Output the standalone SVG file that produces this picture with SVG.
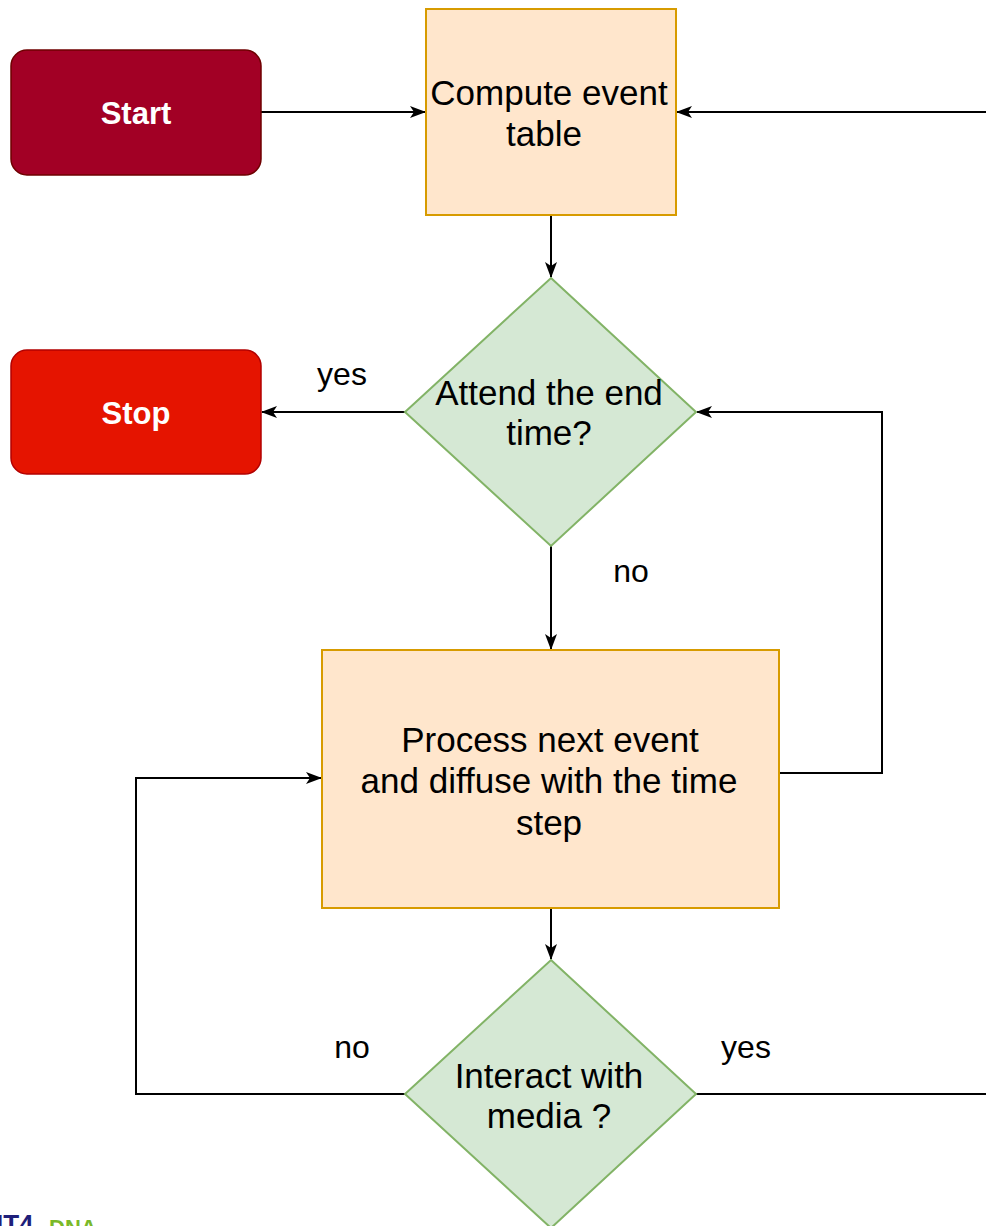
<svg xmlns="http://www.w3.org/2000/svg" width="986" height="1226" viewBox="0 0 986 1226">
<style>
text{font-family:"Liberation Sans",Arial,Helvetica,sans-serif;text-anchor:middle}
.t{font-size:35px;fill:#000}
.w{font-size:31px;fill:#fff;font-weight:bold}
.l{font-size:32px;fill:#000}
.proc{fill:#ffe6cc;stroke:#d79b00;stroke-width:2}
.dec{fill:#d5e8d4;stroke:#82b366;stroke-width:2}
.c{fill:none;stroke:#000;stroke-width:2}
</style>
<defs>
<marker id="a" viewBox="0 0 16 12" refX="15" refY="6" markerWidth="16" markerHeight="12" markerUnits="userSpaceOnUse" orient="auto">
<path d="M0,0 L16,6 L0,12 L4,6 Z" fill="#000"/>
</marker>
</defs>
<rect width="986" height="1226" fill="#fff"/>
<g id="connectors">
<path class="c" d="M261,112 H425" marker-end="url(#a)"/>
<path class="c" d="M990,112 H677" marker-end="url(#a)"/>
<path class="c" d="M551,215 V277" marker-end="url(#a)"/>
<path class="c" d="M405,412 H262" marker-end="url(#a)"/>
<path class="c" d="M551,546 V649" marker-end="url(#a)"/>
<path class="c" d="M779,773 H882 V412 H697" marker-end="url(#a)"/>
<path class="c" d="M551,908 V959" marker-end="url(#a)"/>
<path class="c" d="M405,1094 H136 V778 H321" marker-end="url(#a)"/>
<path class="c" d="M696,1094 H990"/>
<text class="l" x="342" y="385">yes</text>
<text class="l" x="631" y="582">no</text>
<text class="l" x="352" y="1058">no</text>
<text class="l" x="746" y="1058">yes</text>
</g>
<g id="start">
<rect x="11" y="50" width="250" height="125" rx="16" fill="#a20025" stroke="#6f0000" stroke-width="1.5"/>
<text class="w" x="136" y="124">Start</text>
</g>
<g id="compute">
<rect class="proc" x="426" y="9" width="250" height="206"/>
<text class="t" x="549" y="105">Compute event</text>
<text class="t" x="544" y="146">table</text>
</g>
<g id="stop">
<rect x="11" y="350" width="250" height="124" rx="16" fill="#e51400" stroke="#b20000" stroke-width="1.5"/>
<text class="w" x="136" y="424">Stop</text>
</g>
<g id="attend">
<polygon class="dec" points="551,278 696,412 551,546 405,412"/>
<text class="t" x="549" y="405">Attend the end</text>
<text class="t" x="549" y="445">time?</text>
</g>
<g id="process">
<rect class="proc" x="322" y="650" width="457" height="258"/>
<text class="t" x="550" y="752">Process next event</text>
<text class="t" x="549" y="793">and diffuse with the time</text>
<text class="t" x="549" y="835">step</text>
</g>
<g id="interact">
<polygon class="dec" points="551,960 696,1094 551,1228 405,1094"/>
<text class="t" x="549" y="1088">Interact with</text>
<text class="t" x="549" y="1128">media ?</text>
</g>
<g id="logo">
<text x="-4" y="1233" style="font-size:26px;font-weight:bold;fill:#1f1f7a;text-anchor:start">IT4</text>
<text x="49" y="1235" style="font-size:22px;font-weight:bold;fill:#7ab929;text-anchor:start">DNA</text>
</g>
</svg>
